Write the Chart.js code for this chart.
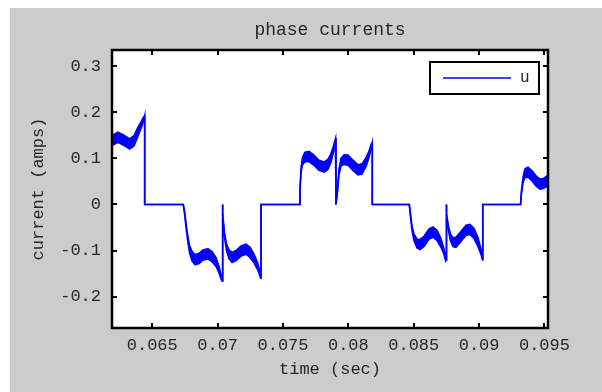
<!DOCTYPE html>
<html><head><meta charset="utf-8">
<script src="https://cdn.jsdelivr.net/npm/chart.js@4/dist/chart.umd.min.js"></script>
<style>
html,body{margin:0;padding:0;background:#fff;width:602px;height:392px;overflow:hidden}
#wrap{position:absolute;left:10px;top:8px;width:592px;height:384px}
</style></head><body>
<div id="wrap"><canvas id="c" width="592" height="384"></canvas></div>
<script>
// time (sec)
const time = [
 0.06192,0.06238,0.06284,0.06327,0.06360,0.06391,0.06414,0.06433,0.06442,0.06442,
 0.06737,0.06747,0.06758,0.06770,0.06785,0.06804,0.06827,0.06858,0.06888,0.06926,0.06957,0.06988,0.07010,0.07031,0.07036,0.07036,
 0.07041,0.07053,0.07068,0.07087,0.07110,0.07141,0.07179,0.07217,0.07248,0.07278,0.07309,0.07328,0.07332,0.07332,
 0.07625,0.07630,0.07638,0.07649,0.07668,0.07699,0.07737,0.07775,0.07814,0.07844,0.07867,0.07886,0.07902,0.07905,0.07905,
 0.07917,0.07928,0.07944,0.07967,0.07997,0.08035,0.08074,0.08104,0.08135,0.08158,0.08177,0.08183,0.08183,
 0.08466,0.08475,0.08487,0.08502,0.08525,0.08548,0.08579,0.08617,0.08647,0.08678,0.08709,0.08731,0.08744,0.08747,0.08747,
 0.08754,0.08766,0.08781,0.08800,0.08823,0.08862,0.08900,0.08930,0.08961,0.08992,0.09014,0.09026,0.09028,0.09028,
 0.09317,0.09324,0.09336,0.09351,0.09374,0.09405,0.09435,0.09466,0.09496,0.09531
];
// phase u current, centre of the PWM ripple band (amps)
const uCurrent = [
 0.139,0.146,0.139,0.131,0.138,0.158,0.172,0.185,0.192,0,
 0,-0.017,-0.045,-0.071,-0.097,-0.112,-0.120,-0.117,-0.110,-0.107,-0.113,-0.125,-0.141,-0.162,-0.166,0,
 -0.023,-0.067,-0.093,-0.108,-0.115,-0.111,-0.101,-0.097,-0.104,-0.117,-0.136,-0.156,-0.160,0,
 0,0.031,0.075,0.094,0.103,0.104,0.096,0.085,0.081,0.087,0.101,0.120,0.140,0.143,0,
 0.031,0.070,0.092,0.097,0.096,0.085,0.075,0.077,0.092,0.109,0.129,0.133,0,
 0,-0.023,-0.052,-0.071,-0.085,-0.087,-0.080,-0.064,-0.060,-0.067,-0.084,-0.102,-0.119,-0.121,0,
 -0.023,-0.052,-0.071,-0.082,-0.082,-0.069,-0.056,-0.054,-0.063,-0.082,-0.102,-0.117,-0.119,0,
 0,0.027,0.053,0.068,0.070,0.062,0.051,0.044,0.046,0.053
];
// half height of the ripple band (amps)
const ripple = [
 0.011,0.011,0.011,0.011,0.011,0.0095,0.007,0.0045,0,0,
 0,0.003,0.0045,0.006,0.008,0.0105,0.011,0.011,0.011,0.011,0.011,0.0095,0.007,0.0035,0,0,
 0.0025,0.0045,0.007,0.0095,0.011,0.011,0.011,0.011,0.011,0.0095,0.007,0.0035,0,0,
 0,0.003,0.0045,0.008,0.0105,0.011,0.011,0.011,0.011,0.011,0.0095,0.007,0.0035,0,0,
 0.003,0.006,0.008,0.0105,0.011,0.011,0.011,0.011,0.0095,0.007,0.0035,0,0,
 0,0.003,0.0045,0.007,0.0095,0.011,0.011,0.011,0.011,0.011,0.0095,0.006,0.0035,0,0,
 0.003,0.0045,0.007,0.0095,0.011,0.011,0.011,0.011,0.011,0.0095,0.006,0.0035,0,0,
 0,0.003,0.006,0.0095,0.011,0.011,0.011,0.011,0.011,0.011
];
const xTickValues = [0.065,0.07,0.075,0.08,0.085,0.09,0.095];
const xTickLabels = ['0.065','0.07','0.075','0.08','0.085','0.09','0.095'];
const yTickValues = [0.3,0.2,0.1,0,-0.1,-0.2];
const yTickLabels = ['0.3','0.2','0.1','0','-0.1','-0.2'];
const xRange = [0.06192,0.09527];
const yRange = [-0.268,0.335];

const FONT = "'Liberation Mono','Courier New',monospace";
const TXT = '#262626';
const BLUE = '#0000ff';

const upper = time.map((t,i)=>({x:t, y:uCurrent[i]+ripple[i]}));
const lower = time.map((t,i)=>({x:t, y:uCurrent[i]-ripple[i]}));

const framePlugin = {
  id:'frame',
  beforeDraw(chart){
    const {ctx, chartArea:a} = chart;
    ctx.save();
    ctx.fillStyle = '#cccccc';
    ctx.fillRect(0,0,chart.width,chart.height);
    ctx.fillStyle = '#ffffff';
    ctx.fillRect(a.left,a.top,a.right-a.left,a.bottom-a.top);
    ctx.restore();
  },
  afterDatasetsDraw(chart){
    const {ctx, chartArea:a, scales:{x,y}} = chart;
    ctx.save();
    // legend box (top right, inside the axes)
    const ds = chart.data.datasets[0];
    const L = a.right-118, R = a.right-9, T = a.top+12, B = a.top+44, cy = (T+B)/2;
    ctx.fillStyle='#fff'; ctx.fillRect(L,T,R-L,B-T);
    ctx.strokeStyle='#000'; ctx.lineWidth=2; ctx.strokeRect(L,T,R-L,B-T);
    ctx.strokeStyle=ds.borderColor; ctx.lineWidth=1.6;
    ctx.beginPath(); ctx.moveTo(L+13,cy); ctx.lineTo(L+81,cy); ctx.stroke();
    ctx.fillStyle=TXT; ctx.font="16px "+FONT; ctx.textBaseline='middle'; ctx.textAlign='left';
    ctx.fillText(ds.label, L+90, cy);
    // ticks on all four sides, inside
    ctx.strokeStyle='#000';
    ctx.lineWidth=2;
    ctx.beginPath();
    xTickValues.forEach(v=>{const p=Math.round(x.getPixelForValue(v));
      ctx.moveTo(p,a.bottom); ctx.lineTo(p,a.bottom-5);
      ctx.moveTo(p,a.top); ctx.lineTo(p,a.top+5);});
    yTickValues.forEach(v=>{const p=Math.round(y.getPixelForValue(v));
      ctx.moveTo(a.left,p); ctx.lineTo(a.left+5,p);
      ctx.moveTo(a.right,p); ctx.lineTo(a.right-5,p);});
    ctx.stroke();
    ctx.lineWidth=2.5;
    ctx.strokeRect(a.left,a.top,a.right-a.left,a.bottom-a.top);
    ctx.restore();
  }
};

new Chart(document.getElementById('c'),{
  type:'line',
  data:{datasets:[
    {label:'u', data:upper, borderColor:BLUE, backgroundColor:BLUE, borderWidth:1.6, pointRadius:0, tension:0, fill:false},
    {label:'u_low', data:lower, borderColor:BLUE, backgroundColor:BLUE, borderWidth:1.6, pointRadius:0, tension:0, fill:'-1'}
  ]},
  options:{
    responsive:false, animation:false, devicePixelRatio:1,
    layout:{padding:{left:0,top:0,right:54,bottom:0}},
    scales:{
      x:{type:'linear', min:xRange[0], max:xRange[1],
        afterBuildTicks:s=>{s.ticks=xTickValues.map(v=>({value:v}));},
        afterFit:s=>{s.height=64;},
        grid:{display:false, drawTicks:false, tickLength:0}, border:{display:false},
        ticks:{autoSkip:false, maxRotation:0, padding:7, color:TXT, font:{family:FONT,size:17},
          callback:(v,i)=>xTickLabels[i]},
        title:{display:true, text:'time (sec)', color:TXT, font:{family:FONT,size:17}, padding:{top:12,bottom:12}}
      },
      y:{type:'linear', min:yRange[0], max:yRange[1],
        afterBuildTicks:s=>{s.ticks=yTickValues.map(v=>({value:v}));},
        afterFit:s=>{s.width=102;},
        grid:{display:false, drawTicks:false, tickLength:0}, border:{display:false},
        ticks:{autoSkip:false, padding:11, color:TXT, font:{family:FONT,size:17},
          callback:(v,i)=>yTickLabels[i]},
        title:{display:true, text:'current (amps)', color:TXT, font:{family:FONT,size:17}, padding:{top:18,bottom:18}}
      }
    },
    plugins:{
      title:{display:true, text:'phase currents', fullSize:false, color:TXT, font:{family:FONT,size:18,weight:'normal'}, padding:{top:11,bottom:9.4}},
      legend:{display:false},
      tooltip:{enabled:false}
    }
  },
  plugins:[framePlugin]
});
</script>
</body></html>
